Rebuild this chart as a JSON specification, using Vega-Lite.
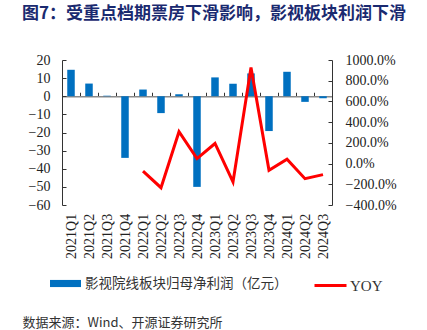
{
  "$schema": "https://vega.github.io/schema/vega-lite/v6.json",
  "width": 270,
  "height": 145,
  "autosize": "none",
  "padding": {"left": 62, "top": 60, "right": 95, "bottom": 125},
  "background": "white",
  "title": {
    "text": "图7：受重点档期票房下滑影响，影视板块利润下滑",
    "anchor": "start",
    "frame": "group",
    "dx": -40,
    "offset": 30,
    "font": "Noto Sans CJK SC",
    "fontWeight": "bold",
    "fontSize": 17,
    "color": "#1a2a70"
  },
  "config": {
    "view": {"stroke": null},
    "axis": {"labelFont": "Liberation Serif", "labelFontSize": 14, "labelColor": "#222", "grid": false}
  },
  "data": {
    "values": [
      {"q": "2021Q1", "profit": 14.6, "yoy": null},
      {"q": "2021Q2", "profit": 7.0, "yoy": null},
      {"q": "2021Q3", "profit": 0.3, "yoy": null},
      {"q": "2021Q4", "profit": -34.0, "yoy": null},
      {"q": "2022Q1", "profit": 3.7, "yoy": -72},
      {"q": "2022Q2", "profit": -9.3, "yoy": -233},
      {"q": "2022Q3", "profit": 1.1, "yoy": 307},
      {"q": "2022Q4", "profit": -50.0, "yoy": 48},
      {"q": "2023Q1", "profit": 10.4, "yoy": 194},
      {"q": "2023Q2", "profit": 6.9, "yoy": -178},
      {"q": "2023Q3", "profit": 12.6, "yoy": 927},
      {"q": "2023Q4", "profit": -19.2, "yoy": -65},
      {"q": "2024Q1", "profit": 13.5, "yoy": 42},
      {"q": "2024Q2", "profit": -3.1, "yoy": -146},
      {"q": "2024Q3", "profit": -1.1, "yoy": -107}
    ]
  },
  "encoding": {
    "x": {
      "field": "q",
      "type": "ordinal",
      "sort": null,
      "scale": {"paddingInner": 0, "paddingOuter": 0},
      "axis": {
        "orient": "bottom",
        "offset": -108.75,
        "domainColor": "#8a8a8a",
        "domainWidth": 1.5,
        "tickColor": "#333",
        "tickSize": -4,
        "tickBand": "extent",
        "labelAngle": -90,
        "labelAlign": "right",
        "labelBaseline": "middle",
        "labelPadding": 121,
        "title": "数据来源：Wind、开源证券研究所",
        "titleFont": "Noto Sans CJK SC",
        "titleFontSize": 13,
        "titleFontWeight": "normal",
        "titleColor": "#333",
        "titleAnchor": "start",
        "titleAlign": "left",
        "titleBaseline": "middle",
        "titleX": -40,
        "titleY": 226
      }
    }
  },
  "layer": [
    {
      "mark": {"type": "bar", "size": 7.5},
      "encoding": {
        "y": {
          "field": "profit",
          "type": "quantitative",
          "scale": {"domain": [-60, 20], "nice": false},
          "axis": {
            "title": null,
            "values": [-60, -50, -40, -30, -20, -10, 0, 10, 20],
            "domainColor": "#333",
            "tickColor": "#333",
            "tickSize": -4,
            "labelPadding": 16
          }
        },
        "fill": {
          "datum": "影视院线板块归母净利润（亿元）",
          "scale": {"range": ["#0070C0"]},
          "legend": {
            "title": null,
            "orient": "none",
            "legendX": -12,
            "legendY": 208,
            "symbolType": "M-1,-0.23H1V0.23H-1Z",
            "symbolSize": 961,
            "symbolStrokeWidth": 0,
            "labelFont": "Noto Sans CJK SC",
            "labelFontSize": 13.5,
            "labelColor": "#333",
            "labelLimit": 0,
            "labelOffset": 4
          }
        }
      }
    },
    {
      "mark": {"type": "line", "strokeWidth": 3},
      "encoding": {
        "y": {
          "field": "yoy",
          "type": "quantitative",
          "scale": {"domain": [-400, 1000], "nice": false},
          "axis": {
            "title": null,
            "orient": "right",
            "values": [-400, -200, 0, 200, 400, 600, 800, 1000],
            "labelExpr": "format(datum.value, '.1f') + '%'",
            "domainColor": "#333",
            "tickColor": "#333",
            "tickSize": -4,
            "labelPadding": 17
          }
        },
        "stroke": {
          "datum": "YOY",
          "scale": {"range": ["#FF0000"]},
          "legend": {
            "title": null,
            "orient": "none",
            "legendX": 251,
            "legendY": 208,
            "symbolType": "stroke",
            "symbolSize": 1024,
            "symbolStrokeWidth": 3,
            "labelFont": "Liberation Serif",
            "labelFontSize": 15,
            "labelColor": "#333",
            "labelOffset": 2
          }
        }
      }
    }
  ],
  "resolve": {"scale": {"y": "independent"}}
}
